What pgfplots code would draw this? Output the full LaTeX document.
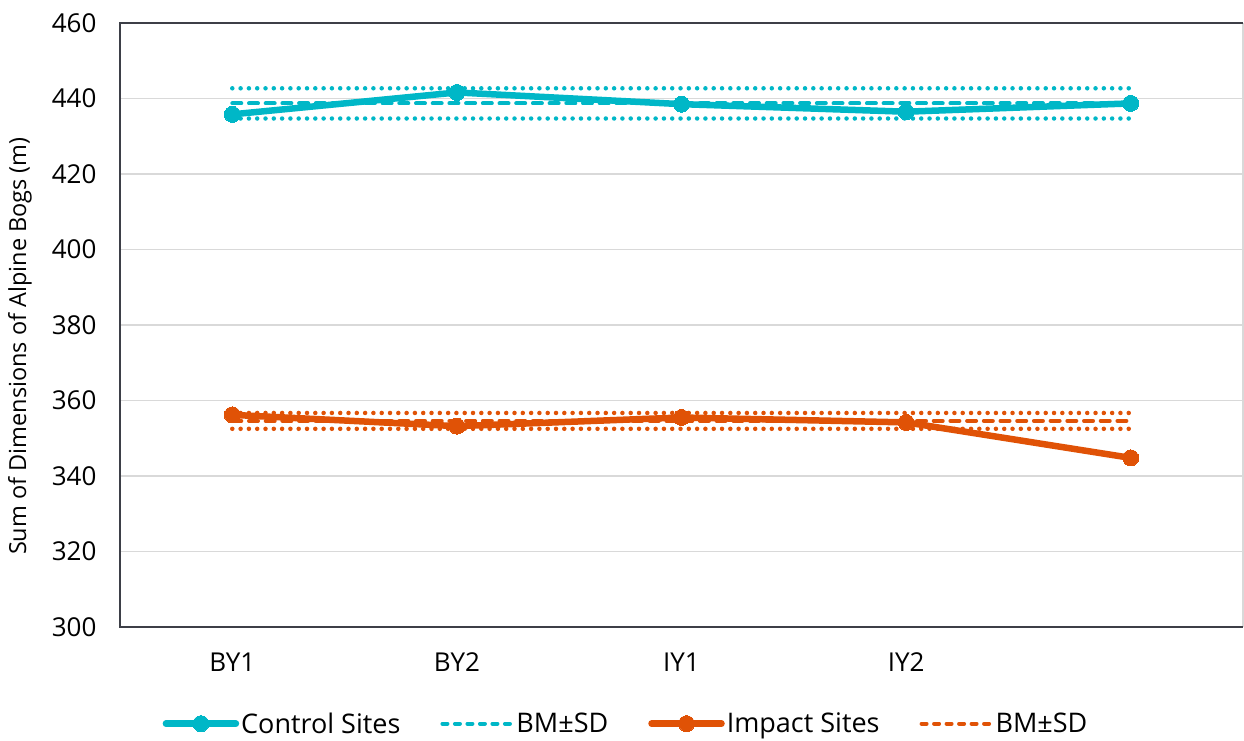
\documentclass[border=0pt]{standalone}
\usepackage{fontspec}
\setmainfont{Open Sans}
\usepackage{pgfplots}
\pgfplotsset{compat=1.18}
\definecolor{ctrl}{RGB}{0,183,199}
\definecolor{imp}{RGB}{224,82,6}
\definecolor{framec}{RGB}{61,63,71}
\definecolor{gridc}{RGB}{217,217,217}

\begin{document}
\begin{tikzpicture}
\begin{axis}[
  scale only axis, width=1123pt, height=604pt,
  xmin=-0.5, xmax=4.5, ymin=300, ymax=460,
  xtick={0,1,2,3}, xticklabels={BY1,BY2,IY1,IY2},
  ytick={300,320,...,460},
  major tick length=0pt,
  ymajorgrids, grid style={gridc, line width=1.5pt},
  axis line style={draw=none},
  clip=false,
  /pgf/number format/assume math mode=true,
  tick label style={font=\fontsize{26}{31}\selectfont, text=black},
  xticklabel style={yshift=-22pt},
  yticklabel style={xshift=-20pt},
  ylabel={Sum of Dimensions of Alpine Bogs (m)},
  every axis y label/.style={at={(axis description cs:0,0.465)}, xshift=-100pt,
    rotate=90, anchor=center, font=\fontsize{23.5}{28}\selectfont},
  legend style={at={(0.4506,-0.16)}, anchor=center, draw=none,
    font=\fontsize{27}{32}\selectfont,
    /tikz/every even column/.append style={column sep=38pt}},
  legend columns=4,
  legend image code/.code={\draw[mark repeat=2,mark phase=2,line cap=round,#1] plot coordinates {(0pt,0pt) (35pt,0pt) (70pt,0pt)};},
  mean/.style={line width=4pt, line cap=round, dash pattern=on 9pt off 7.7pt,
    legend image post style={dash pattern=on 5pt off 7.5pt}},
  sd/.style={line width=4.5pt, line cap=round, dash pattern=on 0pt off 8.3pt, forget plot},
  site/.style={line width=6.5pt, mark=*, mark size=8pt, mark options={solid, line width=0pt}},
]
% frame: dark on three sides, light on the right
\draw[gridc, line width=1.5pt] (rel axis cs:1,0) -- (rel axis cs:1,1);
\draw[framec, line width=2.5pt] (rel axis cs:1,1) -- (rel axis cs:0,1) -- (rel axis cs:0,0) -- (rel axis cs:1,0);

% control sites: SD band
\addplot[ctrl, sd] coordinates {(0,442.7) (4,442.7)};
\addplot[ctrl, sd] coordinates {(0,434.7) (4,434.7)};
% impact sites: SD band
\addplot[imp, sd] coordinates {(0,356.7) (4,356.7)};
\addplot[imp, sd] coordinates {(0,352.5) (4,352.5)};

\addplot[ctrl, site] coordinates {
  (0,435.8) (1,441.6) (2,438.5) (3,436.5) (4,438.7)};
\addlegendentry{Control Sites}
\addplot[ctrl, mean] coordinates {(0,438.7) (4,438.7)};
\addlegendentry{BM±SD}
\addplot[imp, site] coordinates {
  (0,356.2) (1,353.2) (2,355.5) (3,354.2) (4,344.8)};
\addlegendentry{Impact Sites}
\addplot[imp, mean] coordinates {(0,354.6) (4,354.6)};
\addlegendentry{BM±SD}
\end{axis}
% page extent: margins around the plot area
\pgfresetboundingbox
\path ([xshift=-120pt,yshift=-113pt]current axis.south west) rectangle ([xshift=1pt,yshift=23pt]current axis.north east);
\end{tikzpicture}
\end{document}
